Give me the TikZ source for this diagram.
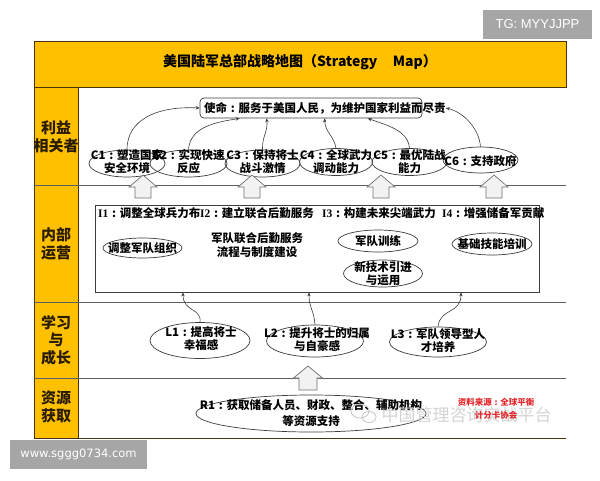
\documentclass[tikz,border=0pt]{standalone}
\usepackage{fontspec}
\setmainfont{Noto Sans CJK SC}
\newfontfamily\wwwfont{DejaVu Sans}
\newfontfamily\tgfont{Liberation Sans}
\newfontfamily\serifI{Liberation Serif}
\usetikzlibrary{shapes.geometric,arrows.meta}
\definecolor{gold}{HTML}{FFC000}
\definecolor{frameline}{HTML}{4A3410}
\definecolor{sepline}{HTML}{606060}
\definecolor{linec}{HTML}{3C3C3C}
\definecolor{redsrc}{HTML}{E3262B}
\definecolor{wmgray}{HTML}{A6A6A6}
\definecolor{arrowfill}{HTML}{F2F2F2}
\definecolor{arrowline}{HTML}{707070}
\definecolor{sidetext}{HTML}{2A1C00}
\newcommand\fs[2]{\fontsize{#1}{#2}\selectfont}
\newcommand\cln{\makebox[1em][c]{:}}
% block up-arrow: x, tip y, shoulder y, base y, head half width, shaft half width
\newcommand\blkup[6]{%
  \draw[blk] (#1-#6,#4) -- (#1-#6,#3) -- (#1-#5,#3) -- (#1,#2) -- (#1+#5,#3) -- (#1+#6,#3) -- (#1+#6,#4) -- cycle;}
\begin{document}
\begin{tikzpicture}[x=1pt,y=-1pt,
  ell/.style={draw=linec, line width=0.7pt, ellipse, inner sep=0pt},
  txt/.style={font=\fs{11.5}{13}\bfseries, align=center, inner sep=0pt, text=black},
  conn/.style={draw=linec, line width=0.6pt, -{Stealth[length=4pt,width=3.4pt]}},
  band/.style={fill=gold, draw=frameline, line width=0.8pt},
  sep/.style={draw=sepline, line width=0.9pt},
  side/.style={font=\fs{15}{17.5}\bfseries, align=center, text=sidetext, inner sep=0pt},
  blk/.style={fill=arrowfill, draw=arrowline, line width=0.7pt, line join=miter},
  wmbox/.style={fill=wmgray, inner sep=0pt, text=white},
]
\useasboundingbox (0,0) rectangle (600,480);
\fill[white] (0,0) rectangle (600,480);

% frame
\path[band] (34,41) rectangle (566,87);
\node[font=\fs{14}{16}\bfseries, inner sep=0pt] (title) at (300,62) {美国陆军总部战略地图（Strategy\hspace{1.1em}Map）};
\path[band] (34,87) rectangle (78,438);
\draw[sep] (34,185) -- (566,185);
\draw[sep] (34,302) -- (566,302);
\draw[sep] (34,378) -- (566,378);
\draw[draw=frameline, line width=0.9pt] (34,438) -- (566,438);

% side labels
\node[side] (s1) at (56,137) {利益\\相关者};
\node[side] (s2) at (56,244) {内部\\运营};
\node[side] (s3) at (56,340) {学习\\与\\成长};
\node[side] (s4) at (56,407) {资源\\获取};

% stakeholders
\node[draw=linec, line width=0.7pt, rounded corners=4pt, minimum width=222pt, minimum height=20pt, inner sep=0pt] (mission) at (311,108) {};
\node[txt, anchor=west] (missiont) at (204,108) {使命\cln 服务于美国人民，为维护国家利益而尽责};

\node[ell, minimum width=76pt, minimum height=27pt] (c1) at (127,163.5) {};
\node[ell, minimum width=77pt, minimum height=27pt] (c2) at (188.5,163.5) {};
\node[ell, minimum width=75pt, minimum height=27pt] (c3) at (262.5,163.5) {};
\node[ell, minimum width=73pt, minimum height=27pt] (c4) at (336,162) {};
\node[ell, minimum width=75pt, minimum height=27pt] (c5) at (409.5,162) {};
\node[ell, minimum width=75pt, minimum height=26pt] (c6) at (480.5,160) {};
\node[txt] (c1t) at (127,161.5) {C1\cln 塑造国家\\安全环境};
\node[txt] (c2t) at (188.5,161.5) {C2\cln 实现快速\\反应};
\node[txt] (c3t) at (262.5,161.5) {C3\cln 保持将士\\战斗激情};
\node[txt] (c4t) at (336,161.5) {C4\cln 全球武力\\调动能力};
\node[txt] (c5t) at (409.5,161.5) {C5\cln 最优陆战\\能力};
\node[txt] (c6t) at (480.5,161) {C6\cln 支持政府};

\draw[conn] (c1.north) .. controls (127,118) and (160,106) .. (mission.west);
\draw[conn] (c2.north) .. controls (190,126) and (218,122) .. ([xshift=40pt]mission.south west);
\draw[conn] (c3.north) .. controls (262,136) and (268,132) .. ([xshift=67pt]mission.south west);
\draw[conn] (c4.north) .. controls (334,136) and (325,132) .. ([xshift=125pt]mission.south west);
\draw[conn] (c5.north) .. controls (408,130) and (386,125) .. ([xshift=168pt]mission.south west);
\draw[conn] (c6.north) .. controls (479,128) and (463,112) .. (missiont.east);

% block arrows stakeholders <- internal
\blkup{143}{175}{187}{198}{14}{8}
\blkup{252}{175}{187}{198}{14}{8}
\blkup{381}{175}{187}{198}{14}{8}
\blkup{494}{175}{187}{198}{14}{8}

% internal
\node[draw=linec, line width=0.8pt, minimum width=444pt, minimum height=87pt, inner sep=0pt] (ibox) at (317,248.5) {};
\node[txt, anchor=west] (i1) at (98,213) {{\serifI I1}\cln 调整全球兵力布局};
\node[txt, anchor=west, fill=white, inner xsep=0.5pt, inner ysep=1pt] (i2) at (199.5,213) {{\serifI I2}\cln 建立联合后勤服务};
\node[txt, anchor=west] (i3) at (322,213) {{\serifI I3}\cln 构建未来尖端武力};
\node[txt, anchor=west] (i4) at (442,213) {{\serifI I4}\cln 增强储备军贡献};

\node[ell, minimum width=79pt, minimum height=20pt] (e1) at (142.5,248) {};
\node[txt] (e1t) at (142.5,248) {调整军队组织};
\node[txt, font=\fs{11.5}{14}\bfseries] (e2t) at (257,245) {军队联合后勤服务\\流程与制度建设};
\node[ell, minimum width=80pt, minimum height=22pt] (e3) at (378,241) {};
\node[txt] (e3t) at (378,241) {军队训练};
\node[ell, minimum width=79pt, minimum height=27pt] (e4) at (383,273.5) {};
\node[txt] (e4t) at (383,273.5) {新技术引进\\与运用};
\node[ell, minimum width=80pt, minimum height=22pt] (e5) at (492,244) {};
\node[txt] (e5t) at (492,244) {基础技能培训};

% learning
\node[ell, minimum width=100pt, minimum height=36pt] (l1) at (200,340.5) {};
\node[ell, minimum width=97pt, minimum height=32pt] (l2) at (315,341) {};
\node[ell, minimum width=97pt, minimum height=30pt] (l3) at (438,342) {};
\node[txt] (l1t) at (201,339) {L1\cln 提高将士\\幸福感};
\node[txt] (l2t) at (317,340) {L2\cln 提升将士的归属\\与自豪感};
\node[txt] (l3t) at (438,341) {L3\cln 军队领导型人\\才培养};
\draw[conn] (l1.north) .. controls (202,308) and (183,312) .. ([xshift=-134pt]ibox.south);
\draw[conn] (l2.north) .. controls (314,310) and (309,308) .. ([xshift=-8pt]ibox.south);
\draw[conn] (l3.north) .. controls (440,308) and (461,314) .. ([xshift=144pt]ibox.south);

% resources
\blkup{308}{366}{378}{390}{14.5}{9}
\node[ell, minimum width=230pt, minimum height=37pt] (r1) at (311,413.5) {};
\node[txt, font=\fs{11.5}{16}\bfseries] (r1t) at (311,413) {R1\cln 获取储备人员、财政、整合、辅助机构\\等资源支持};

% watermark
\draw[gray!45, line width=0.8pt] (360,411) ellipse [x radius=9pt, y radius=7pt];
\draw[gray!45, line width=0.8pt] (369,417) ellipse [x radius=7pt, y radius=5.5pt];
\node[text=gray!40, font=\fs{17}{19}, inner sep=0pt, opacity=0.85] (wm) at (466.5,415) {中国管理咨询实战平台};
\node[text=redsrc, font=\fs{8.5}{12.5}\bfseries, align=center, inner sep=0pt] (src) at (496,408.5) {资料来源\cln 全球平衡\\计分卡协会};

% corner labels
\node[wmbox, minimum width=109pt, minimum height=29pt, font=\tgfont\fs{13}{15}] (tg) at (537.5,24.5) {TG: MYYJJPP};
\node[wmbox, minimum width=137pt, minimum height=29pt, font=\wwwfont\fs{11.5}{14}] (www) at (78.5,454.5) {www.sggg0734.com};
\end{tikzpicture}
\end{document}
